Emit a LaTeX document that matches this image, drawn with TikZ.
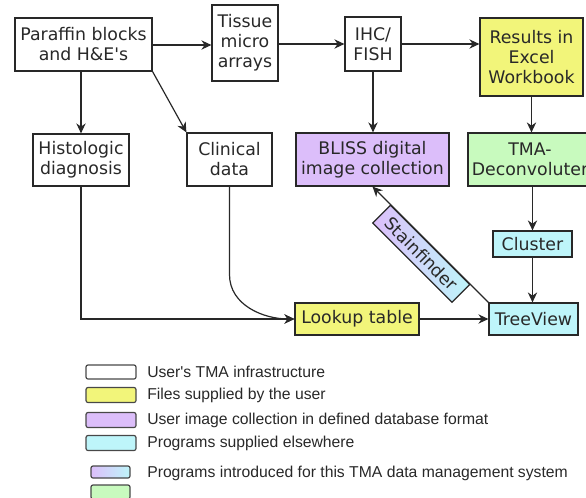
\documentclass[tikz,border=0pt]{standalone}
\usepackage{fontspec}
\setmainfont{DejaVu Sans}
\newfontfamily\keyfont{Liberation Sans}
\usetikzlibrary{arrows.meta}
\definecolor{ink}{RGB}{40,40,40}
\definecolor{filefill}{RGB}{242,245,122}
\definecolor{imgfill}{RGB}{220,190,250}
\definecolor{progfill}{RGB}{190,245,250}
\definecolor{newfill}{RGB}{200,250,190}
\tikzset{
  box/.style={draw=ink,line width=.9pt,align=center,inner sep=0pt,text=ink,
    font=\fontsize{13}{15}\selectfont},
  flow/.style={draw=ink,line width=.9pt,-{Stealth[length=7.5pt,width=7pt]}},
  keybox/.style={draw=ink!85,line width=.9pt,rounded corners=1.5pt,inner sep=0pt},
  keytext/.style={anchor=west,inner sep=0pt,text=ink,font=\keyfont\fontsize{11.8}{13}\selectfont},
}
\begin{document}
\begin{tikzpicture}[x=.75pt,y=.75pt]
\useasboundingbox (0,0) rectangle (586,-497);
% top row
\node[box,minimum width=102.75pt,minimum height=39.75pt] (par) at (83.5,-44.5) {Paraffin blocks\\and H\&E\textquotesingle s};
\node[box,minimum width=49.5pt,minimum height=57pt] (tma) at (245,-43) {Tissue\\micro\\arrays};
\node[box,minimum width=42pt,minimum height=40.5pt] (ihc) at (373,-44) {IHC/\\FISH};
\node[box,fill=filefill,minimum width=77.25pt,minimum height=58.5pt] (res) at (531.5,-57) {Results in\\Excel\\Workbook};
% second row
\node[box,minimum width=72pt,minimum height=39pt] (his) at (81,-160) {Histologic\\diagnosis};
\node[box,minimum width=63.75pt,minimum height=39.75pt] (cli) at (229.5,-159.5) {Clinical\\data};
\node[box,fill=imgfill,minimum width=114.75pt,minimum height=39.75pt] (bliss) at (372.5,-159.5) {BLISS digital\\image collection};
\node[box,fill=newfill,minimum width=93pt,minimum height=39.75pt] (dec) at (530,-159.5) {TMA-\\Deconvoluter};
% programs at the bottom
\node[box,fill=progfill,minimum width=59.25pt,minimum height=19.5pt] (clu) at (532.5,-244) {Cluster};
\node[box,fill=progfill,minimum width=66.75pt,minimum height=24pt] (tre) at (533.5,-319) {TreeView};
\node[box,fill=filefill,minimum width=93pt,minimum height=24pt] (loo) at (357,-319) {Lookup table};

\draw[flow] (par.east |- 0,-45) -- (tma.west |- 0,-45);
\draw[flow] (tma.east |- ihc) -- (ihc.west);
\draw[flow] (ihc.east) -- (ihc.east -| res.west);
\draw[flow] (par.south -| his) -- (his.north);
\draw[flow] (par.south east) -- (cli.north west);
\draw[flow] (ihc.south) -- (ihc.south |- bliss.north);
\draw[flow] (res.south) -- (res.south |- dec.north);
\draw[flow] (dec.south -| clu) -- (clu.north);
\draw[flow] (clu.south) -- (clu.south |- tre.north);
\draw[flow] (his.south) |- (loo.west);
\draw[flow] (cli.south) -- ++(0,-88) to[out=-90,in=180] (loo.west);
\draw[flow] (loo.east) -- (tre.west);
\draw[flow] (tre.north west) -- (bliss.south)
  node[box,midway,rotate=-45,anchor=north,left color=imgfill,right color=progfill,
    minimum width=84pt,minimum height=18.75pt] (stain) {Stainfinder};

% key
\node[keybox,minimum width=37.5pt,minimum height=10.5pt] (k1) at (111,-372) {};
\node[keybox,fill=filefill,minimum width=37.5pt,minimum height=11.25pt] (k2) at (111,-395) {};
\node[keybox,fill=imgfill,minimum width=37.5pt,minimum height=11.25pt] (k3) at (111,-420) {};
\node[keybox,fill=progfill,minimum width=37.5pt,minimum height=11.25pt] (k4) at (111,-443) {};
\node[keybox,left color=imgfill,right color=progfill,minimum width=29.25pt,minimum height=9pt] (k5) at (110.5,-472) {};
\node[keybox,fill=newfill,minimum width=29.25pt,minimum height=10.5pt] (k6) at (110.5,-492) {};
\node[keytext] (t1) at (147,-372) {User\textquotesingle s TMA infrastructure};
\node[keytext] (t2) at (147,-395) {Files supplied by the user};
\node[keytext] (t3) at (147,-420) {User image collection in defined database format};
\node[keytext] (t4) at (147,-443) {Programs supplied elsewhere};
\node[keytext] (t5) at (147,-473) {Programs introduced for this TMA data management system};
\end{tikzpicture}
\end{document}
